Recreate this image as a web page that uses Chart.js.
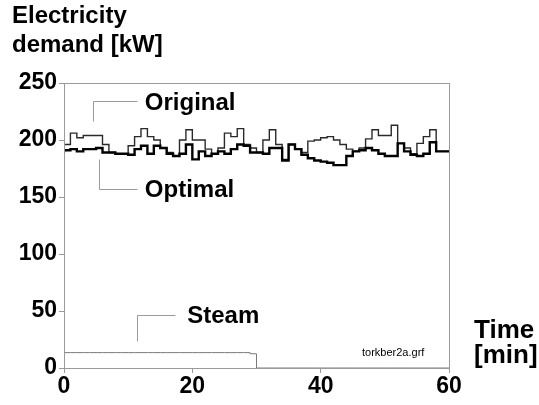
<!DOCTYPE html>
<html>
<head>
<meta charset="utf-8">
<script src="https://cdn.jsdelivr.net/npm/chart.js@4/dist/chart.umd.min.js"></script>
<style>
  body { margin: 0; background: #fff; }
</style>
</head>
<body>
<canvas id="demand" width="539" height="405"></canvas>
<script>
// minute marks 0..60 (last point closes the final step)
const minutes = [0, 1, 2, 3, 4, 5, 6, 7, 8, 9, 10, 11, 12, 13, 14, 15, 16, 17, 18, 19, 20,
  21, 22, 23, 24, 25, 26, 27, 28, 29, 30, 31, 32, 33, 34, 35, 36, 37, 38, 39, 40,
  41, 42, 43, 44, 45, 46, 47, 48, 49, 50, 51, 52, 53, 54, 55, 56, 57, 58, 59, 60];

const original = [189, 196, 206, 202, 204, 204, 204, 196, 189,
  188, 188, 195, 203, 210, 203,
  200, 193, 189, 186, 200, 209, 200, 200, 192, 188, 193, 206, 203, 210, 196,
  193, 189, 200, 209, 196, 183, 196, 192, 189, 199, 200, 202, 203, 200, 196,
  192, 190, 193, 201, 209, 204, 204, 213, 197, 193, 188, 197, 203, 209, 190, 190];

const optimal = [189, 191, 192, 190, 192, 192, 193, 189, 189,
  188, 188, 187, 192, 195, 188,
  195, 193, 188, 186, 188, 196, 183, 190, 186, 188, 190, 188, 192, 196, 195,
  189, 189, 188, 193, 193, 182, 196, 192, 187, 184, 182, 181, 180, 178, 178,
  186, 190, 191, 193, 191, 188, 186, 186, 197, 190, 187, 186, 188, 198, 190, 190];

const steam = [13.5, 13.5, 13.5, 13.5, 13.5, 13.5, 13.5, 13.5, 13.5, 13.5,
  13.5, 13.5, 13.5, 13.5, 13.5, 13.5, 13.5, 13.5, 13.5, 13.5,
  13.5, 13.5, 13.5, 13.5, 13.5, 13.5, 13.5, 13.5, 13.5, 13.5,
  12.5, 0, 0, 0, 0, 0, 0, 0, 0, 0, 0, 0, 0, 0, 0, 0,
  0, 0, 0, 0, 0, 0, 0, 0, 0, 0, 0, 0, 0, 0, 0];

const yTicks = [0, 50, 100, 150, 200, 250];
const xTicks = [0, 20, 40, 60];

const FONT = "Arial, 'Liberation Sans', sans-serif";
const GREY = '#9a9a9a';

function pts(vals) {
  return minutes.map((m, i) => ({ x: m, y: vals[i] }));
}

// frame, leader lines and free text
const decorations = {
  id: 'decorations',
  afterDraw(chart) {
    const c = chart.ctx;
    const a = chart.chartArea;
    const xs = chart.scales.x, ys = chart.scales.y;
    const X = v => xs.getPixelForValue(v), Y = v => ys.getPixelForValue(v);

    c.save();
    c.strokeStyle = GREY;
    c.lineWidth = 1;
    c.strokeRect(Math.round(a.left) + 0.5, Math.round(a.top) + 0.5,
      Math.round(a.right - a.left), Math.round(a.bottom - a.top));

    function leader(x0, y0, x1, y1, x2) {
      c.beginPath();
      c.moveTo(Math.round(X(x0)) + 0.5, Math.round(Y(y0)) + 0.5);
      c.lineTo(Math.round(X(x1)) + 0.5, Math.round(Y(y1)) + 0.5);
      c.lineTo(Math.round(X(x2)) + 0.5, Math.round(Y(y1)) + 0.5);
      c.stroke();
    }
    leader(4.5, 217, 4.5, 234, 11.4);   // Original
    leader(5.4, 183, 5.4, 157, 11.4);   // Optimal
    leader(11.4, 24, 11.4, 46.5, 17.3); // Steam

    c.fillStyle = '#000';
    c.textBaseline = 'middle';
    c.textAlign = 'left';
    c.font = 'bold 24px ' + FONT;
    c.fillText('Original', X(12.6), Y(232.5));
    c.fillText('Optimal', X(12.6), Y(156));
    c.fillText('Steam', X(19.2), Y(45));

    c.fillText('Electricity', 12, 16);
    c.fillText('demand [kW]', 12, 45);
    c.font = 'bold 26px ' + FONT;
    c.fillText('Time', 474, 331);
    c.fillText('[min]', 474, 356);

    c.font = '11px ' + FONT;
    c.fillText('torkber2a.grf', 362, 353);
    c.restore();
  }
};

const ctx = document.getElementById('demand').getContext('2d');

const chart = new Chart(ctx, {
  type: 'line',
  data: {
    datasets: [
      { label: 'Optimal', data: pts(optimal), stepped: 'after', borderColor: '#000', borderWidth: 2.4, pointRadius: 0 },
      { label: 'Original', data: pts(original), stepped: 'after', borderColor: '#2a2a2a', borderWidth: 1.4, pointRadius: 0 },
      { label: 'Steam', data: pts(steam), stepped: 'after', borderColor: '#7a7a7a', borderWidth: 1, pointRadius: 0 }
    ]
  },
  options: {
    responsive: false,
    animation: false,
    layout: { padding: { top: 83, right: 90, left: 0, bottom: 0 } },
    plugins: { legend: { display: false }, tooltip: { enabled: false } },
    scales: {
      x: {
        type: 'linear',
        min: 0,
        max: 60,
        afterFit(scale) { scale.height = 37; },
        afterBuildTicks(scale) { scale.ticks = xTicks.map(v => ({ value: v })); },
        grid: { drawOnChartArea: false, drawTicks: true, tickLength: 5, color: GREY },
        border: { display: true, color: GREY },
        ticks: { color: '#000', padding: 0, maxRotation: 0, font: { family: FONT, size: 23, weight: 'bold' } }
      },
      y: {
        min: 0,
        max: 250,
        afterFit(scale) { scale.width = 64; },
        afterBuildTicks(scale) { scale.ticks = yTicks.map(v => ({ value: v })); },
        grid: { drawOnChartArea: false, drawTicks: true, tickLength: 5, color: GREY },
        border: { display: true, color: GREY },
        ticks: { color: '#000', padding: 2, font: { family: FONT, size: 23, weight: 'bold' } }
      }
    }
  },
  plugins: [decorations]
});
</script>
</body>
</html>
